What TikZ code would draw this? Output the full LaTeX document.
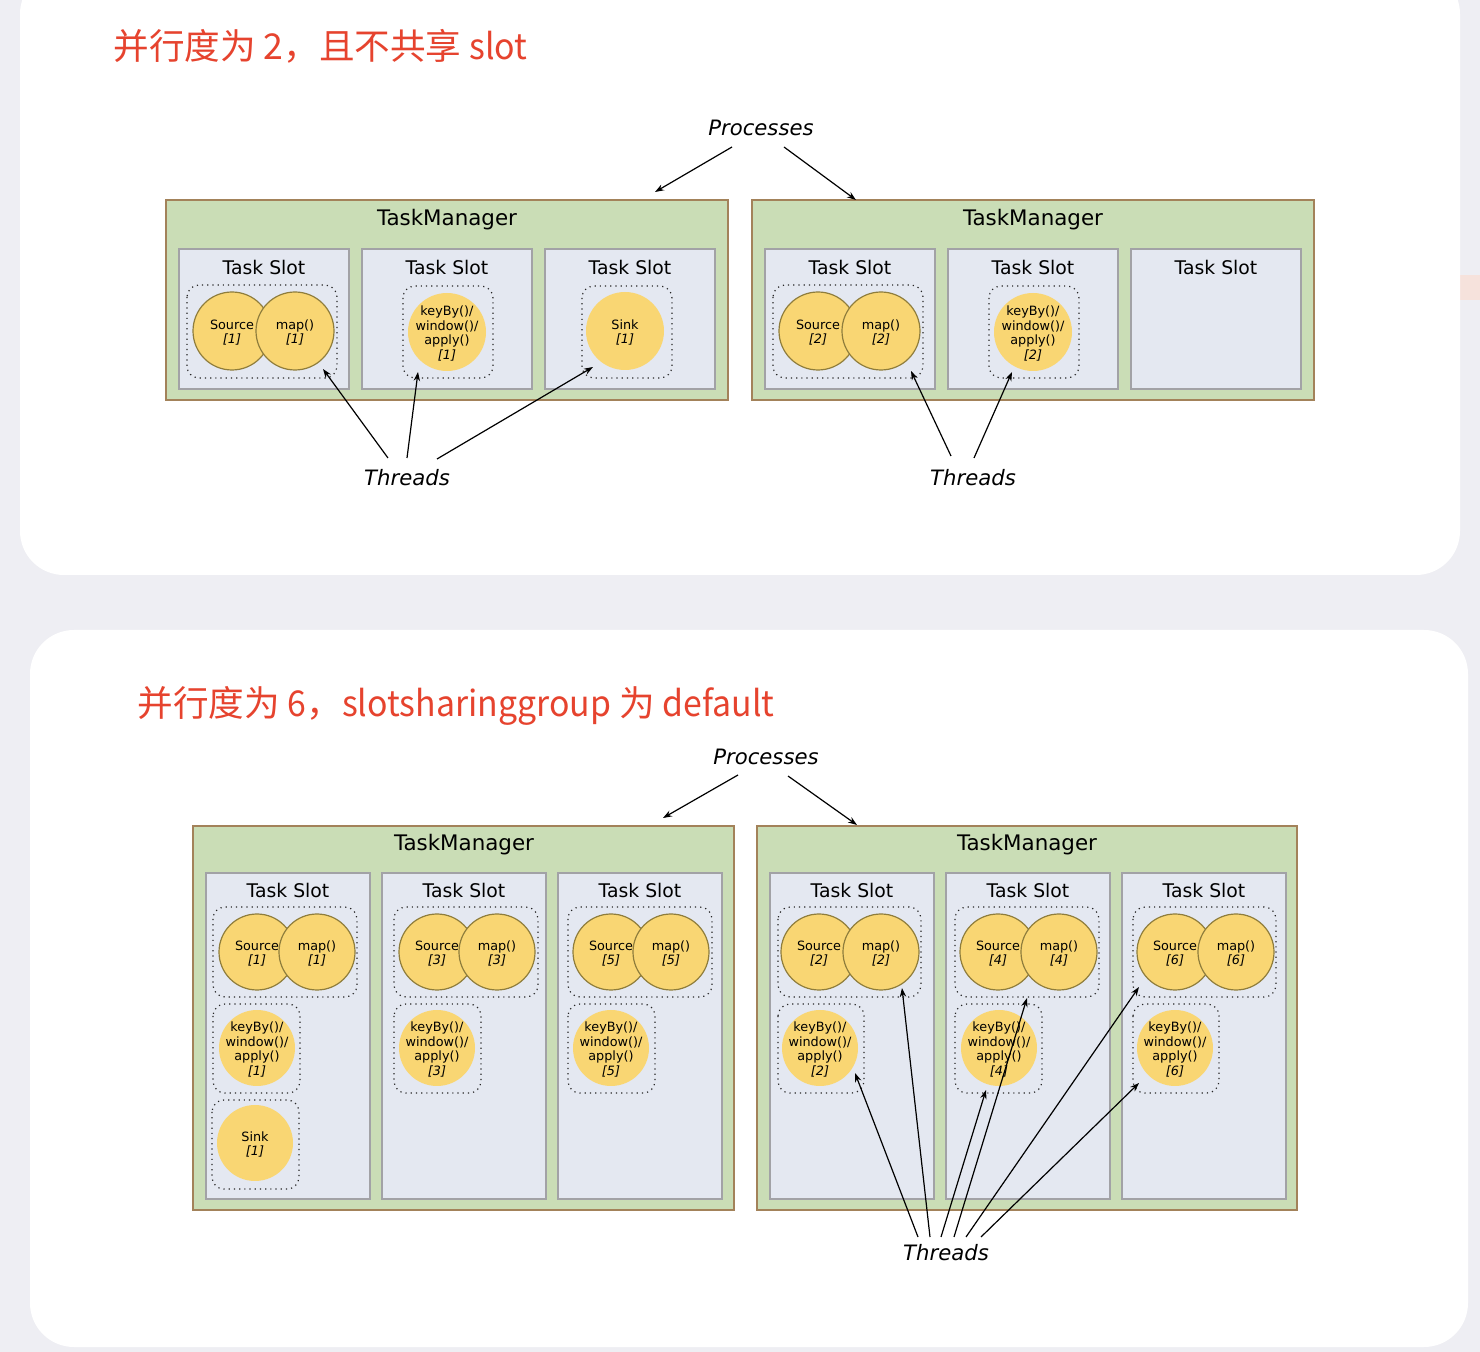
\documentclass[tikz,border=0pt]{standalone}
\usepackage{fontspec}
\setmainfont{DejaVu Sans}
\newfontfamily\cjk{Noto Sans CJK SC}
\newfontfamily\cjkl{Noto Sans CJK SC}[FakeStretch=0.95]
\usetikzlibrary{arrows.meta}
\definecolor{bgc}{HTML}{EEEEF3}
\definecolor{tmfill}{HTML}{CADDB6}
\definecolor{tmdraw}{HTML}{A3825A}
\definecolor{slotfill}{HTML}{E4E8F1}
\definecolor{slotdraw}{HTML}{A2A2A6}
\definecolor{opfill}{HTML}{F9D673}
\definecolor{opdraw}{HTML}{8F7D3C}
\definecolor{titlered}{HTML}{E6432E}
\definecolor{pinkish}{HTML}{F6E2DC}
\tikzset{
  tmbox/.style={fill=tmfill, draw=tmdraw, line width=1pt},
  slotbox/.style={fill=slotfill, draw=slotdraw, line width=1pt},
  grp/.style={draw=black!85, dotted, line width=0.6pt, rounded corners=6pt},
  op/.style={circle, fill=opfill, inner sep=0pt, minimum size=39pt},
  opb/.style={op, draw=opdraw, line width=0.6pt},
  optext/.style={font=\fontsize{6.4}{7.3}\selectfont, align=center, inner sep=0pt, yshift=-0.8pt},
  tmlabel/.style={font=\fontsize{10.7}{12}\selectfont, inner sep=0pt},
  slotlabel/.style={font=\fontsize{9.4}{11}\selectfont, inner sep=0pt},
  biglabel/.style={font=\fontsize{10.6}{12}\selectfont\itshape, inner sep=0pt},
  titletext/.style={font=\cjk\fontsize{17.8}{20}\selectfont, text=titlered, anchor=west, inner sep=0pt},
  arr/.style={-{Stealth[length=4.5pt,width=3.2pt]}, line width=0.6pt},
}
% #1 name, #2 source x, #3 map x, #4 y, #5 index, #6 size
\newcommand\srcmap[6]{%
  \node[opb, minimum size=#6] (#1s) at (#2,#4) {};
  \node[opb, minimum size=#6] (#1m) at (#3,#4) {};
  \node[optext] (#1st) at (#1s.center) {Source\\\textit{[#5]}};
  \node[optext] (#1mt) at (#1m.center) {map()\\\textit{[#5]}};
}
% #1 name, #2 x, #3 y, #4 index, #5 size
\newcommand\kwa[5]{%
  \node[op, minimum size=#5] (#1) at (#2,#3) {};
  \node[optext] (#1t) at (#1.center) {keyBy()/\\window()/\\apply()\\\textit{[#4]}};
}
\newcommand\sinkop[5]{%
  \node[op, minimum size=#5] (#1) at (#2,#3) {};
  \node[optext] (#1t) at (#1.center) {Sink\\\textit{[#4]}};
}
\begin{document}
\begin{tikzpicture}[x=0.5pt,y=-0.5pt]
\useasboundingbox (0,0) rectangle (1480,1352);
\fill[bgc] (0,0) rectangle (1480,1352);
\fill[pinkish] (1460,275) rectangle (1480,300);
\fill[white, rounded corners=22pt] (20,-30) rectangle (1460,575);
\fill[white, rounded corners=22pt] (30,630) rectangle (1468,1347);

% ---------- titles ----------
\node[titletext] (t1) at (113,46) {并行度为 2，且不共享 {\cjkl slot}};
\node[titletext] (t2) at (137,706) {并行度为 {\cjkl 6}，{\cjkl slotsharinggroup} 为 {\cjkl default}};

% =============== TOP DIAGRAM ===============
\node[biglabel] (proc1) at (761,128) {Processes};
\draw[tmbox] (166,200) rectangle (728,400);
\draw[tmbox] (752,200) rectangle (1314,400);
\node[tmlabel] (tm1) at (447,220) {TaskManager};
\node[tmlabel] (tm2) at (1033,220) {TaskManager};
\foreach \x [count=\i] in {179,362,545,765,948,1131}{
  \draw[slotbox] (\x,249) rectangle (\x+170,389);
  \node[slotlabel] (ts\i) at (\x+85,267) {Task Slot};
}
\draw[grp] (187,285) rectangle (337,378);
\srcmap{a1}{232}{295}{331}{1}{39pt}
\draw[grp] (403,286) rectangle (493,378);
\kwa{a2}{447}{332}{1}{39pt}
\draw[grp] (582,286) rectangle (672,378);
\sinkop{a3}{625}{331}{1}{39pt}
\draw[grp] (773,285) rectangle (923,378);
\srcmap{b1}{818}{881}{331}{2}{39pt}
\draw[grp] (989,286) rectangle (1079,378);
\kwa{b2}{1033}{332}{2}{39pt}

\node[biglabel] (thr1) at (407,478) {Threads};
\node[biglabel] (thr2) at (973,478) {Threads};

\coordinate (p1a) at (732,147); \coordinate (p1ae) at (655,192);
\coordinate (p1b) at (784,147); \coordinate (p1be) at (856,200);
\draw[arr] (p1a) -- (p1ae);
\draw[arr] (p1b) -- (p1be);

\coordinate (u1) at (388,458); \coordinate (u1e) at (323,369);
\coordinate (u2) at (407,458); \coordinate (u2e) at (418,372);
\coordinate (u3) at (437,459); \coordinate (u3e) at (593,367);
\coordinate (u4) at (951,456); \coordinate (u4e) at (911,371);
\coordinate (u5) at (974,458); \coordinate (u5e) at (1012,372);
\draw[arr] (u1) -- (u1e);
\draw[arr] (u2) -- (u2e);
\draw[arr] (u3) -- (u3e);
\draw[arr] (u4) -- (u4e);
\draw[arr] (u5) -- (u5e);

% =============== BOTTOM DIAGRAM ===============
\node[biglabel] (proc2) at (766,757) {Processes};
\draw[tmbox] (193,826) rectangle (734,1210);
\draw[tmbox] (757,826) rectangle (1297,1210);
\node[tmlabel] (tm3) at (464,845) {TaskManager};
\node[tmlabel] (tm4) at (1027,845) {TaskManager};
\foreach \x [count=\i] in {206,382,558,770,946,1122}{
  \draw[slotbox] (\x,873) rectangle (\x+164,1199);
  \node[slotlabel] (bs\i) at (\x+82,890) {Task Slot};
}
% slot 1
\draw[grp] (213,907) rectangle (357,997);
\srcmap{c1}{257}{317}{952}{1}{38pt}
\draw[grp] (213,1004) rectangle (300,1093);
\kwa{c1k}{257}{1048}{1}{38pt}
\draw[grp] (212,1100) rectangle (299,1189);
\sinkop{c1s}{255}{1143}{1}{38pt}
% slot 3
\draw[grp] (394,907) rectangle (538,997);
\srcmap{c3}{437}{497}{952}{3}{38pt}
\draw[grp] (394,1004) rectangle (481,1093);
\kwa{c3k}{437}{1048}{3}{38pt}
% slot 5
\draw[grp] (568,907) rectangle (712,997);
\srcmap{c5}{611}{671}{952}{5}{38pt}
\draw[grp] (568,1004) rectangle (655,1093);
\kwa{c5k}{611}{1048}{5}{38pt}
% slot 2
\draw[grp] (778,907) rectangle (921,997);
\srcmap{d2}{819}{881}{952}{2}{38pt}
\draw[grp] (778,1004) rectangle (864,1093);
\kwa{d2k}{820}{1048}{2}{38pt}
% slot 4
\draw[grp] (955,907) rectangle (1099,997);
\srcmap{d4}{998}{1059}{952}{4}{38pt}
\draw[grp] (955,1004) rectangle (1042,1093);
\kwa{d4k}{999}{1048}{4}{38pt}
% slot 6
\draw[grp] (1133,907) rectangle (1276,997);
\srcmap{d6}{1175}{1236}{952}{6}{38pt}
\draw[grp] (1133,1004) rectangle (1219,1093);
\kwa{d6k}{1175}{1048}{6}{38pt}

\node[biglabel] (thr3) at (946,1253) {Threads};

\coordinate (p2a) at (738,775); \coordinate (p2ae) at (663,818);
\coordinate (p2b) at (788,776); \coordinate (p2be) at (857,825);
\draw[arr] (p2a) -- (p2ae);
\draw[arr] (p2b) -- (p2be);

\coordinate (v1) at (918,1237); \coordinate (v1e) at (855,1073);
\coordinate (v2) at (930,1237); \coordinate (v2e) at (902,988);
\coordinate (v3) at (941,1237); \coordinate (v3e) at (986,1090);
\coordinate (v4) at (954,1237); \coordinate (v4e) at (1027,998);
\coordinate (v5) at (966,1237); \coordinate (v5e) at (1139,987);
\coordinate (v6) at (981,1237); \coordinate (v6e) at (1139,1083);
\foreach \k in {1,...,6}{\draw[arr] (v\k) -- (v\k e);}
\end{tikzpicture}
\end{document}
